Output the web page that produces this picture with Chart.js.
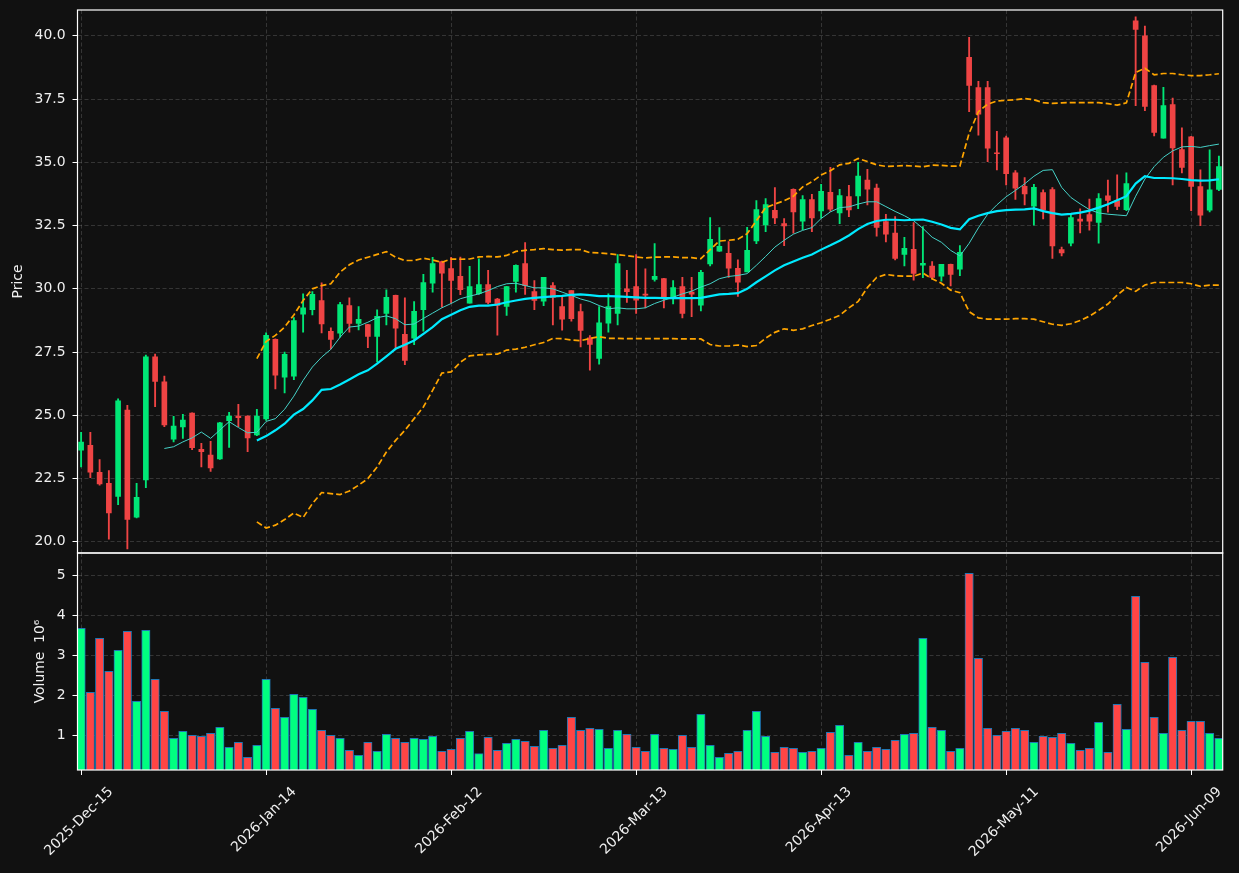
<!DOCTYPE html>
<html><head><meta charset="utf-8">
<script src="https://cdn.jsdelivr.net/npm/chart.js@4.4.1/dist/chart.umd.min.js"></script>
<style>
html,body{margin:0;padding:0;background:#111111;}
#wrap{position:relative;width:1239px;height:873px;overflow:hidden;background:#111111;}
canvas{position:absolute;left:0;}
#cp{top:0;}
#cv{top:543px;}
</style></head><body>
<div id="wrap"><canvas id="cp" width="1239" height="560" style="width:1239px;height:560px"></canvas><canvas id="cv" width="1239" height="330" style="width:1239px;height:330px"></canvas></div>
<script>
// ---------------- DATA ----------------
const dates = ['2025-12-15','2025-12-16','2025-12-17','2025-12-18','2025-12-19','2025-12-22','2025-12-23','2025-12-24','2025-12-26','2025-12-29','2025-12-30','2025-12-31',
'2026-01-02','2026-01-05','2026-01-06','2026-01-07','2026-01-08','2026-01-09','2026-01-12','2026-01-13','2026-01-14','2026-01-15','2026-01-16','2026-01-20','2026-01-21','2026-01-22','2026-01-23','2026-01-26','2026-01-27','2026-01-28','2026-01-29','2026-01-30',
'2026-02-02','2026-02-03','2026-02-04','2026-02-05','2026-02-06','2026-02-09','2026-02-10','2026-02-11','2026-02-12','2026-02-13','2026-02-17','2026-02-18','2026-02-19','2026-02-20','2026-02-23','2026-02-24','2026-02-25','2026-02-26','2026-02-27',
'2026-03-02','2026-03-03','2026-03-04','2026-03-05','2026-03-06','2026-03-09','2026-03-10','2026-03-11','2026-03-12','2026-03-13','2026-03-16','2026-03-17','2026-03-18','2026-03-19','2026-03-20','2026-03-23','2026-03-24','2026-03-25','2026-03-26','2026-03-27','2026-03-30','2026-03-31',
'2026-04-01','2026-04-02','2026-04-06','2026-04-07','2026-04-08','2026-04-09','2026-04-10','2026-04-13','2026-04-14','2026-04-15','2026-04-16','2026-04-17','2026-04-20','2026-04-21','2026-04-22','2026-04-23','2026-04-24','2026-04-27','2026-04-28','2026-04-29','2026-04-30',
'2026-05-01','2026-05-04','2026-05-05','2026-05-06','2026-05-07','2026-05-08','2026-05-11','2026-05-12','2026-05-13','2026-05-14','2026-05-15','2026-05-18','2026-05-19','2026-05-20','2026-05-21','2026-05-22','2026-05-26','2026-05-27','2026-05-28','2026-05-29',
'2026-06-01','2026-06-02','2026-06-03','2026-06-04','2026-06-05','2026-06-08','2026-06-09','2026-06-10','2026-06-11','2026-06-12'];

const opens = [23.62,23.82,22.75,22.31,21.80,25.21,20.98,22.45,27.31,26.32,
24.06,24.54,25.09,23.66,23.43,23.28,24.79,24.97,24.97,24.23,
24.86,28.00,26.51,26.55,29.00,29.18,29.54,28.32,28.25,29.34,
28.63,28.59,28.12,29.03,29.74,28.20,28.05,29.18,30.22,31.08,
30.80,30.49,29.43,29.81,30.17,29.60,29.31,30.29,31.00,29.89,
29.51,30.13,29.30,29.93,29.10,28.06,27.25,28.64,29.03,30.00,
30.09,29.77,30.37,30.41,29.63,30.09,29.87,29.35,30.98,31.49,
31.40,30.81,30.67,31.89,32.53,33.10,32.58,33.93,32.67,33.53,
33.08,33.81,33.00,33.65,33.67,34.30,33.98,32.66,32.20,31.36,
31.56,30.94,30.90,30.50,30.97,30.78,39.15,37.95,37.95,35.38,
35.97,34.58,34.05,33.27,33.80,33.92,31.55,31.80,32.76,32.93,
32.62,33.68,33.49,33.13,40.59,40.00,38.03,35.95,37.28,35.50,
36.01,34.04,33.11,33.93];
const highs = [24.33,24.33,23.25,22.82,25.65,25.40,22.31,27.38,27.42,26.55,
24.96,25.04,25.10,23.89,23.97,24.72,25.12,25.44,24.98,25.24,
28.26,28.02,27.50,28.86,29.80,29.89,30.24,28.46,29.47,29.64,
29.30,28.60,29.17,29.96,29.75,29.64,29.50,30.57,31.25,31.10,
31.25,31.26,30.89,31.19,30.73,29.62,30.10,30.95,31.83,30.33,
30.45,30.25,29.74,29.93,29.40,28.15,29.30,29.80,31.35,30.73,
31.35,30.79,31.79,30.42,30.33,30.45,30.45,30.73,32.82,32.42,
31.87,31.15,32.43,33.49,33.57,34.00,32.78,33.95,33.69,33.74,
34.13,34.80,33.93,34.09,35.00,34.72,34.14,32.94,32.86,32.04,
32.62,32.46,31.08,30.97,30.98,31.71,39.94,38.20,38.20,36.22,
36.04,34.67,34.40,34.13,33.91,34.00,31.65,32.93,33.16,33.55,
33.76,34.30,34.51,34.58,40.75,40.38,38.05,37.96,37.54,36.36,
36.03,34.70,35.49,35.25];
const lows = [22.96,22.54,22.24,20.11,21.47,19.72,20.95,22.14,25.34,24.55,
23.95,24.09,23.64,22.96,22.78,23.26,23.73,24.55,23.56,24.20,
24.80,26.04,25.89,26.41,28.29,28.97,28.26,27.63,28.09,28.29,
28.38,27.67,27.11,28.57,27.63,27.00,27.79,28.33,29.87,29.28,
29.43,29.77,29.43,29.78,29.40,28.17,28.95,29.87,29.78,29.18,
29.33,28.57,28.37,28.72,27.70,26.79,27.02,28.29,28.57,29.46,
29.03,29.25,30.30,29.25,29.40,28.85,28.90,29.13,30.91,31.48,
30.45,29.70,30.67,31.79,32.26,32.58,31.71,32.20,32.34,32.26,
32.79,33.06,32.58,32.85,33.17,33.32,32.08,31.85,31.14,30.91,
30.34,30.44,30.38,30.30,30.12,30.52,37.00,36.07,35.03,34.70,
34.11,33.53,33.32,32.52,32.76,31.20,31.30,31.70,32.21,32.32,
31.80,33.03,33.13,33.09,37.24,37.04,36.04,35.95,34.11,34.58,
33.09,32.50,33.04,33.88];
const closes = [23.94,22.75,22.29,21.14,25.57,20.89,21.76,27.31,26.34,24.62,
24.58,24.81,23.72,23.56,22.92,24.70,24.97,24.91,24.11,24.97,
28.16,26.59,27.41,28.75,29.25,29.78,28.61,28.00,29.38,28.63,
28.79,28.12,28.91,29.66,28.45,27.17,29.11,30.25,31.00,30.62,
30.33,29.97,30.09,30.17,29.46,29.34,30.09,30.93,30.13,29.54,
30.45,29.66,28.80,28.82,28.36,27.80,28.66,29.30,31.00,29.89,
29.55,29.75,30.49,29.64,30.05,29.03,29.79,30.65,31.96,31.68,
30.82,30.26,31.52,33.13,33.33,32.80,32.49,33.04,33.53,32.80,
33.85,33.15,33.69,33.12,34.46,33.94,32.43,32.16,31.20,31.60,
30.61,31.01,30.45,30.97,30.57,31.44,38.04,36.90,35.56,35.34,
34.55,33.98,33.75,34.01,33.12,31.70,31.42,32.82,32.67,32.67,
33.57,33.49,33.26,34.16,40.25,37.21,36.18,37.24,35.57,34.80,
34.05,32.91,33.91,34.83];
// volume, in millions (10^6)
const volumes = [3.675,2.075,3.425,2.6,3.125,3.6,1.85,3.625,2.4,1.6,
0.925,1.1,1.0,0.975,1.05,1.2,0.7,0.825,0.45,0.75,
2.4,1.675,1.45,2.025,1.95,1.65,1.125,1.0,0.925,0.625,
0.5,0.825,0.6,1.025,0.925,0.825,0.925,0.9,0.975,0.6,
0.65,0.925,1.1,0.54,0.95,0.625,0.8,0.9,0.85,0.725,
1.125,0.675,0.75,1.45,1.125,1.175,1.15,0.675,1.125,1.025,
0.7,0.6,1.025,0.675,0.65,1.0,0.7,1.525,0.75,0.45,
0.55,0.6,1.125,1.6,0.975,0.575,0.7,0.675,0.575,0.6,
0.675,1.075,1.25,0.5,0.825,0.6,0.7,0.65,0.875,1.025,
1.05,3.425,1.2,1.125,0.6,0.675,5.05,2.925,1.175,1.0,
1.1,1.175,1.125,0.825,0.975,0.95,1.05,0.8,0.625,0.675,
1.325,0.575,1.775,1.15,4.475,2.825,1.45,1.05,2.95,1.125,
1.35,1.35,1.05,0.925];
// moving average (10), first value at bar 9
const ma10Start = 9;
const ma10 = [23.69,23.76,23.95,24.11,24.34,24.09,24.42,24.75,24.52,24.31,
24.33,24.76,24.87,25.24,25.76,26.38,26.91,27.30,27.61,28.09,
28.49,28.53,28.68,28.86,28.93,28.82,28.58,28.61,28.83,29.04,
29.25,29.42,29.61,29.71,29.80,29.93,30.09,30.20,30.22,30.13,
30.04,30.04,30.00,29.87,29.74,29.60,29.50,29.34,29.21,29.25,
29.21,29.21,29.25,29.42,29.55,29.67,29.80,29.91,30.07,30.20,
30.40,30.49,30.53,30.60,30.93,31.28,31.65,31.92,32.16,32.31,
32.42,32.78,33.04,33.21,33.24,33.35,33.44,33.44,33.25,33.06,
32.89,32.69,32.39,32.04,31.84,31.52,31.30,31.80,32.41,32.95,
33.32,33.64,33.89,34.15,34.45,34.68,34.71,34.01,33.61,33.36,
33.13,33.00,32.95,32.92,32.89,33.66,34.34,34.83,35.20,35.45,
35.61,35.63,35.59,35.66,35.72];
// moving average (20) and Bollinger bands, first value at bar 19
const ma20Start = 19;
const ma20 = [24.01,24.18,24.41,24.67,25.03,25.25,25.59,26.01,26.04,26.22,
26.42,26.62,26.78,27.04,27.33,27.63,27.79,27.96,28.22,28.49,
28.80,28.98,29.15,29.29,29.34,29.34,29.38,29.47,29.54,29.60,
29.64,29.67,29.70,29.72,29.76,29.78,29.75,29.71,29.71,29.70,
29.68,29.66,29.64,29.64,29.63,29.63,29.63,29.63,29.64,29.71,
29.78,29.80,29.83,30.00,30.26,30.49,30.73,30.93,31.08,31.23,
31.36,31.55,31.72,31.90,32.11,32.36,32.56,32.68,32.73,32.73,
32.71,32.73,32.74,32.65,32.54,32.41,32.35,32.75,32.89,32.99,
33.07,33.11,33.13,33.14,33.18,33.07,32.99,32.93,32.96,33.01,
33.09,33.21,33.34,33.50,33.66,34.16,34.45,34.38,34.38,34.37,
34.34,34.30,34.28,34.29,34.33];
const bbUpper = [27.24,27.92,28.16,28.49,28.97,29.54,30.00,30.13,30.20,30.66,
30.95,31.14,31.25,31.36,31.47,31.25,31.12,31.12,31.21,31.14,
31.05,31.18,31.17,31.18,31.26,31.28,31.26,31.32,31.48,31.52,
31.55,31.59,31.55,31.53,31.55,31.55,31.43,31.42,31.39,31.35,
31.31,31.26,31.22,31.25,31.26,31.26,31.23,31.23,31.19,31.55,
31.89,31.92,31.96,32.18,32.69,33.21,33.35,33.48,33.66,34.03,
34.23,34.50,34.67,34.90,34.96,35.15,35.03,34.90,34.84,34.85,
34.87,34.85,34.82,34.89,34.88,34.85,34.85,36.15,37.00,37.30,
37.42,37.45,37.47,37.52,37.47,37.36,37.33,37.35,37.36,37.36,
37.36,37.36,37.32,37.26,37.35,38.55,38.72,38.46,38.51,38.51,
38.46,38.43,38.43,38.46,38.50];
const bbLower = [20.79,20.55,20.66,20.88,21.14,20.96,21.51,21.95,21.91,21.87,
22.01,22.24,22.50,22.96,23.55,24.01,24.41,24.87,25.33,25.99,
26.67,26.72,27.10,27.35,27.39,27.41,27.42,27.58,27.62,27.69,
27.79,27.88,28.04,28.03,27.98,27.95,28.04,28.11,28.04,28.04,
28.03,28.03,28.03,28.03,28.03,28.03,28.02,28.02,28.02,27.80,
27.74,27.74,27.78,27.72,27.76,28.05,28.28,28.42,28.36,28.42,
28.55,28.66,28.80,28.95,29.25,29.50,30.05,30.45,30.57,30.52,
30.50,30.50,30.62,30.40,30.22,29.95,29.85,29.10,28.85,28.80,
28.80,28.80,28.82,28.82,28.80,28.70,28.60,28.56,28.62,28.75,
28.92,29.15,29.40,29.75,30.05,29.90,30.15,30.25,30.25,30.25,
30.25,30.20,30.10,30.15,30.15];
const xTickIdx = [0,20,40,60,80,100,120];
const priceTicks = [20.0,22.5,25.0,27.5,30.0,32.5,35.0,37.5,40.0];
const volTicks = [1,2,3,4,5];
const monthNames = ['Jan','Feb','Mar','Apr','May','Jun','Jul','Aug','Sep','Oct','Nov','Dec'];

// ---------------- STYLE ----------------
const FONT = "'DejaVu Sans', sans-serif";
const FS = 13.9;
const TXT = '#f0f0f0';
const GRID = 'rgba(140,140,140,0.38)';
const UP = '#00e676', DOWN = '#ef4444';
const VUP = '#00ff80', VDOWN = '#ff4545';
const XMIN = -0.39, XMAX = 123.41;
Chart.defaults.font.family = FONT;

const isUp = closes.map((c, i) => c >= opens[i]);
const candleCol = isUp.map(u => u ? UP : DOWN);
const volCol = isUp.map(u => u ? VUP : VDOWN);
const fmtDate = s => { const p = s.split('-'); return p[0] + '-' + monthNames[+p[1] - 1] + '-' + p[2]; };

const framePlugin = {
  id: 'frame',
  afterDraw(chart) {
    const a = chart.chartArea, ctx = chart.ctx;
    ctx.save();
    ctx.strokeStyle = '#ffffff';
    ctx.lineWidth = 1.2;
    ctx.strokeRect(a.left, a.top, a.right - a.left, a.bottom - a.top);
    ctx.restore();
  }
};
const xLabelPlugin = {
  id: 'xlabels',
  afterDraw(chart) {
    const sx = chart.scales.x, a = chart.chartArea, ctx = chart.ctx;
    ctx.save();
    ctx.font = FS + 'px ' + FONT;
    ctx.fillStyle = TXT;
    ctx.textAlign = 'center';
    ctx.textBaseline = 'middle';
    xTickIdx.forEach(i => {
      const t = fmtDate(dates[i]);
      const w = ctx.measureText(t).width;
      const cx = sx.getPixelForValue(i) - 2;
      const cy = a.bottom + 15 + (w + 13.5) * Math.SQRT1_2 / 2;
      ctx.save();
      ctx.translate(cx, cy);
      ctx.rotate(-Math.PI / 4);
      ctx.fillText(t, 0, 0);
      ctx.restore();
    });
    ctx.restore();
  }
};

const xScaleBase = (height, drawTicks) => ({
  type: 'linear', min: XMIN, max: XMAX, offset: false,
  afterBuildTicks: s => { s.ticks = xTickIdx.map(v => ({value: v})); },
  afterFit: s => { s.height = height; s.paddingLeft = 0; s.paddingRight = 0; s.paddingTop = 0; s.paddingBottom = 0; },
  ticks: {display: false},
  grid: {offset: false, color: GRID, lineWidth: 0.8, drawTicks: drawTicks, tickLength: 5, tickColor: '#ffffff', tickWidth: 1},
  border: {display: false, dash: [4, 2.5]}
});
const yFit = s => { s.width = 77.5; s.paddingTop = 0; s.paddingBottom = 0; s.paddingLeft = 0; s.paddingRight = 0; };
const lineDs = (vals, start, color, width, dash, order) => ({
  type: 'line', data: vals.map((v, k) => ({x: k + start, y: v})),
  borderColor: color, borderWidth: width, borderDash: dash, pointRadius: 0,
  fill: false, tension: 0, order: order
});

new Chart(document.getElementById('cp'), {
  type: 'bar',
  data: {
    datasets: [
      lineDs(bbUpper, ma20Start, '#ffa500', 1.7, [6, 3], 1),
      lineDs(bbLower, ma20Start, '#ffa500', 1.7, [6, 3], 1),
      lineDs(ma20, ma20Start, '#00eaff', 2.2, [], 2),
      lineDs(ma10, ma10Start, '#46d2c8', 1, [], 3),
      {data: opens.map((o, i) => ({x: i, y: [o, closes[i]]})), backgroundColor: candleCol,
       barThickness: 5, grouped: false, minBarLength: 1, order: 4},
      {data: lows.map((l, i) => ({x: i, y: [l, highs[i]]})), backgroundColor: candleCol,
       barThickness: 1.2, grouped: false, order: 5}
    ]
  },
  options: {
    responsive: false, animation: false, devicePixelRatio: 1, events: [],
    layout: {padding: {top: 10, right: 16.3, left: 0, bottom: 0}},
    plugins: {legend: {display: false}, tooltip: {enabled: false}},
    scales: {
      x: xScaleBase(7, false),
      y: {
        type: 'linear', min: 19.56, max: 41.02,
        afterBuildTicks: s => { s.ticks = priceTicks.map(v => ({value: v})); },
        afterFit: yFit,
        ticks: {color: TXT, font: {family: FONT, size: FS}, padding: 7, callback: v => Number(v).toFixed(1)},
        grid: {color: GRID, lineWidth: 0.8, drawTicks: true, tickLength: 5, tickColor: '#ffffff', tickWidth: 1},
        border: {display: false, dash: [4, 2.5]},
        title: {display: true, text: 'Price', color: TXT, font: {family: FONT, size: FS}, padding: {top: 9.6, bottom: 0}}
      }
    }
  },
  plugins: [framePlugin]
});

new Chart(document.getElementById('cv'), {
  type: 'bar',
  data: {
    datasets: [
      {data: volumes.map((v, i) => ({x: i, y: v})), backgroundColor: volCol, borderColor: '#1f77b4',
       borderWidth: 1, borderSkipped: false, barThickness: 8.4, grouped: false}
    ]
  },
  options: {
    responsive: false, animation: false, devicePixelRatio: 1, events: [],
    layout: {padding: {top: 10, right: 16.3, left: 0, bottom: 0}},
    plugins: {legend: {display: false}, tooltip: {enabled: false}},
    scales: {
      x: xScaleBase(103, true),
      y: {
        type: 'linear', min: 0.13, max: 5.56,
        afterBuildTicks: s => { s.ticks = volTicks.map(v => ({value: v})); },
        afterFit: yFit,
        ticks: {color: TXT, font: {family: FONT, size: FS}, padding: 7, callback: v => String(v)},
        grid: {color: GRID, lineWidth: 0.8, drawTicks: true, tickLength: 5, tickColor: '#ffffff', tickWidth: 1},
        border: {display: false, dash: [4, 2.5]},
        title: {display: true, text: 'Volume  10\u2076', color: TXT, font: {family: FONT, size: FS}, padding: {top: 31.6, bottom: 0}}
      }
    }
  },
  plugins: [framePlugin, xLabelPlugin]
});
</script>
</body></html>
